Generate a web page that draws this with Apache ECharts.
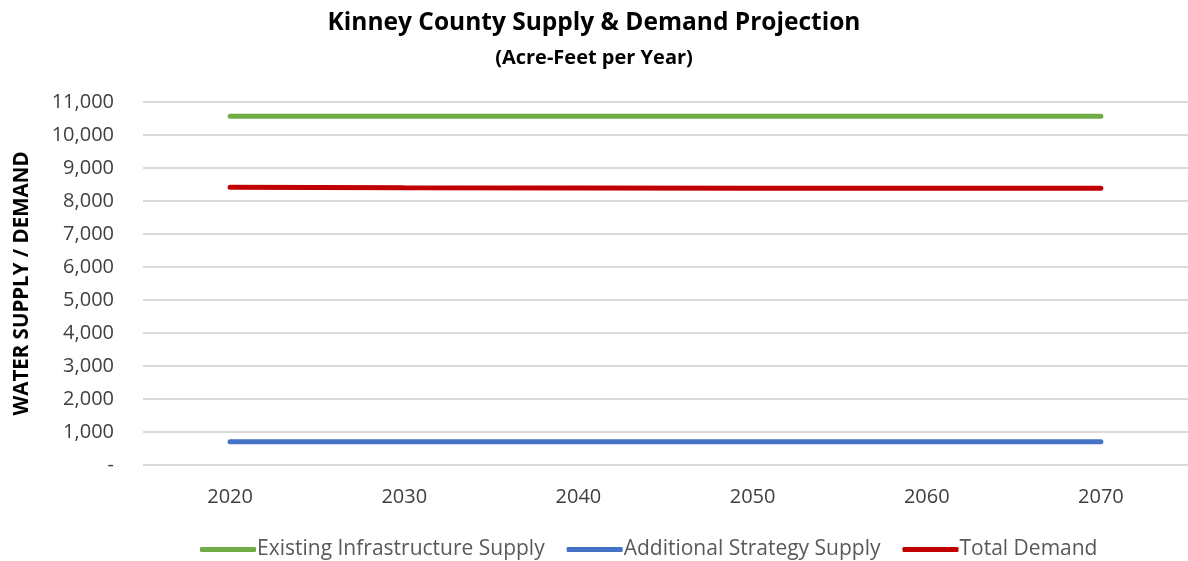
<!DOCTYPE html>
<html><head><meta charset="utf-8">
<script src="https://cdn.jsdelivr.net/npm/echarts@6/dist/echarts.min.js"></script>
<style>html,body{margin:0;padding:0;background:#fff}#c{width:1188px;height:561px}</style>
</head><body><div id="c"></div>
<script>
const categories = ['2020','2030','2040','2050','2060','2070'];
const existingSupply = [10570,10570,10570,10570,10570,10570];
const additionalSupply = [706,706,706,706,706,706];
const totalDemand = [8413,8400,8393,8390,8386,8383];
const yTicks = {min:0,max:11000,interval:1000};

const chart = echarts.init(document.getElementById('c'));
chart.setOption({
  animation:false,
  title:{text:'Kinney County Supply & Demand Projection',subtext:'(Acre-Feet per Year)',left:'center',top:6,itemGap:12,
    textStyle:{fontFamily:'Open Sans',fontWeight:'bold',fontSize:24.5,color:'#000'},
    subtextStyle:{fontFamily:'Open Sans',fontWeight:'bold',fontSize:20,color:'#000'}},
  grid:{left:143,right:-5,top:102,bottom:96,containLabel:false},
  legend:{bottom:1,left:200,padding:0,itemWidth:56,itemHeight:5,itemGap:22,
    textStyle:{fontFamily:'Open Sans',fontSize:21,color:'#595959',padding:[0,0,0,-4]},
    data:[{name:'Existing Infrastructure Supply',icon:'roundRect'},{name:'Additional Strategy Supply',icon:'roundRect'},{name:'Total Demand',icon:'roundRect'}]},
  xAxis:{type:'category',data:categories,boundaryGap:true,
    axisLine:{show:false},axisTick:{show:false},
    axisLabel:{fontFamily:'Open Sans',fontSize:20,color:'#404040',margin:22}},
  yAxis:{type:'value',min:yTicks.min,max:yTicks.max,interval:yTicks.interval,
    name:'WATER SUPPLY / DEMAND',nameLocation:'middle',nameGap:110,nameRotate:90,
    nameTextStyle:{fontFamily:'Open Sans',fontWeight:'bold',fontSize:20.5,color:'#000'},
    axisLine:{show:false},axisTick:{show:false},
    splitLine:{lineStyle:{color:'#d9d9d9',width:2}},
    axisLabel:{fontFamily:'Open Sans',fontSize:20,color:'#404040',margin:29,
      formatter:v=> v===0 ? '-' : v.toLocaleString('en-US')}},
  series:[
    {name:'Existing Infrastructure Supply',type:'line',data:existingSupply,symbol:'none',lineStyle:{color:'#70AD47',width:5,cap:'round'},itemStyle:{color:'#70AD47'}},
    {name:'Additional Strategy Supply',type:'line',data:additionalSupply,symbol:'none',lineStyle:{color:'#4472C4',width:5,cap:'round'},itemStyle:{color:'#4472C4'}},
    {name:'Total Demand',type:'line',data:totalDemand,symbol:'none',lineStyle:{color:'#C00000',width:5,cap:'round'},itemStyle:{color:'#C00000'}}
  ]
});
</script></body></html>
